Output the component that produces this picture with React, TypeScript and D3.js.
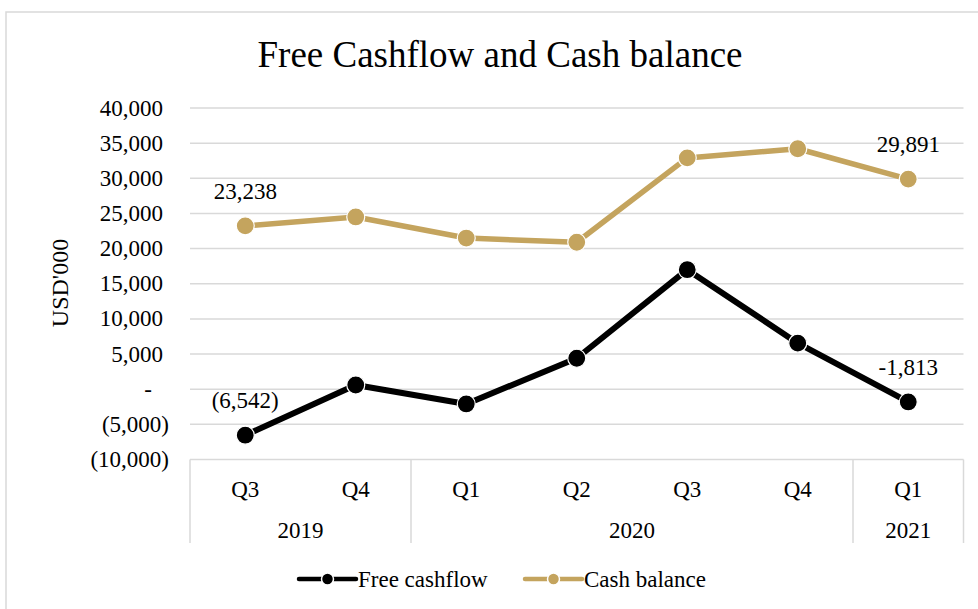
import * as d3 from "d3";
import { useEffect, useRef } from "react";

const quarters = ["Q3", "Q4", "Q1", "Q2", "Q3", "Q4", "Q1"];
const years = [
  { year: "2019", count: 2 },
  { year: "2020", count: 4 },
  { year: "2021", count: 1 },
];
const freeCashflow = [-6542, 600, -2100, 4400, 17000, 6550, -1813];
const cashBalance = [23238, 24500, 21500, 20900, 32900, 34200, 29891];
const freeCashflowLabels = ["(6,542)", "", "", "", "", "", "-1,813"];
const cashBalanceLabels = ["23,238", "", "", "", "", "", "29,891"];
const yTicks = [-10000, -5000, 0, 5000, 10000, 15000, 20000, 25000, 30000, 35000, 40000];

const FONT = "'Liberation Serif', 'Times New Roman', serif";
const GOLD = "#c4a45e";
const GRID = "#d9d9d9";

export default function App() {
  const svgRef = useRef<SVGSVGElement | null>(null);

  useEffect(() => {
    const svg = d3.select(svgRef.current);
    const width = 978;
    const height = 609;
    const left = 190;
    const right = 963.5;
    const top = 108;
    const bottom = 459.5;

    svg.selectAll("*").remove();
    svg.attr("width", width).attr("height", height);

    // chart frame
    svg
      .append("rect")
      .attr("x", 6)
      .attr("y", 12)
      .attr("width", 1000)
      .attr("height", 700)
      .attr("fill", "#fff")
      .attr("stroke", GRID)
      .attr("stroke-width", 1.5);

    svg
      .append("text")
      .attr("x", 500)
      .attr("y", 67)
      .attr("text-anchor", "middle")
      .attr("font-family", FONT)
      .attr("font-size", "37px")
      .attr("fill", "#000")
      .text("Free Cashflow and Cash balance");

    const x = d3
      .scaleBand<number>()
      .domain(d3.range(quarters.length))
      .range([left, right])
      .padding(0);
    const cx = (i: number) => (x(i) as number) + x.bandwidth() / 2;

    const y = d3.scaleLinear().domain([-10000, 40000]).range([bottom, top]);

    // gridlines
    svg
      .selectAll(".grid")
      .data(yTicks)
      .enter()
      .append("line")
      .attr("class", "grid")
      .attr("x1", left)
      .attr("x2", right)
      .attr("y1", (d) => y(d))
      .attr("y2", (d) => y(d))
      .attr("stroke", GRID)
      .attr("stroke-width", 1.5);

    // y tick labels, accounting style
    svg
      .selectAll(".ytick")
      .data(yTicks)
      .enter()
      .append("text")
      .attr("class", "ytick")
      .attr("x", (d) => (d === 0 ? 148 : d < 0 ? 169 : 163))
      .attr("y", (d) => y(d) + 7.5)
      .attr("text-anchor", (d) => (d === 0 ? "middle" : "end"))
      .attr("font-family", FONT)
      .attr("font-size", "23px")
      .attr("fill", "#000")
      .text((d) =>
        d === 0 ? "-" : d < 0 ? `(${d3.format(",")(-d)})` : d3.format(",")(d)
      );

    svg
      .append("text")
      .attr("transform", "translate(68,283) rotate(-90)")
      .attr("text-anchor", "middle")
      .attr("font-family", FONT)
      .attr("font-size", "24px")
      .attr("fill", "#000")
      .text("USD'000");

    // category axis box
    const axisBottom = 543;
    const dividers = [0];
    years.reduce((acc, g) => {
      dividers.push(acc + g.count);
      return acc + g.count;
    }, 0);
    svg
      .selectAll(".divider")
      .data(dividers)
      .enter()
      .append("line")
      .attr("class", "divider")
      .attr("x1", (d) => (d < quarters.length ? (x(d) as number) : right))
      .attr("x2", (d) => (d < quarters.length ? (x(d) as number) : right))
      .attr("y1", bottom)
      .attr("y2", axisBottom)
      .attr("stroke", GRID)
      .attr("stroke-width", 1.5);

    svg
      .selectAll(".qlabel")
      .data(quarters)
      .enter()
      .append("text")
      .attr("class", "qlabel")
      .attr("x", (_, i) => cx(i))
      .attr("y", 497)
      .attr("text-anchor", "middle")
      .attr("font-family", FONT)
      .attr("font-size", "23px")
      .attr("fill", "#000")
      .text((d) => d);

    svg
      .selectAll(".ylabel")
      .data(years)
      .enter()
      .append("text")
      .attr("class", "ylabel")
      .attr("x", (_, i) => {
        const start = dividers[i];
        const end = dividers[i + 1];
        const x0 = x(start) as number;
        const x1 = end < quarters.length ? (x(end) as number) : right;
        return (x0 + x1) / 2;
      })
      .attr("y", 538)
      .attr("text-anchor", "middle")
      .attr("font-family", FONT)
      .attr("font-size", "23px")
      .attr("fill", "#000")
      .text((d) => d.year);

    const line = d3
      .line<number>()
      .x((_, i) => cx(i))
      .y((d) => y(d));

    const series = [
      { values: cashBalance, labels: cashBalanceLabels, color: GOLD, width: 5.5 },
      { values: freeCashflow, labels: freeCashflowLabels, color: "#000", width: 6 },
    ];

    series.forEach((s) => {
      svg
        .append("path")
        .datum(s.values)
        .attr("fill", "none")
        .attr("stroke", s.color)
        .attr("stroke-width", s.width)
        .attr("stroke-linejoin", "round")
        .attr("d", line);

      svg
        .append("g")
        .selectAll("circle")
        .data(s.values)
        .enter()
        .append("circle")
        .attr("cx", (_, i) => cx(i))
        .attr("cy", (d) => y(d))
        .attr("r", 9)
        .attr("fill", s.color)
        .attr("stroke", "#fff")
        .attr("stroke-width", 1.2);

      svg
        .append("g")
        .selectAll("text")
        .data(s.values)
        .enter()
        .append("text")
        .attr("x", (_, i) => cx(i))
        .attr("y", (d) => y(d) - 27)
        .attr("text-anchor", "middle")
        .attr("font-family", FONT)
        .attr("font-size", "23px")
        .attr("fill", "#000")
        .text((_, i) => s.labels[i]);
    });

    // legend
    const legend = [
      { name: "Free cashflow", color: "#000", x: 299 },
      { name: "Cash balance", color: GOLD, x: 525 },
    ];
    const ly = 579;
    legend.forEach((l) => {
      svg
        .append("line")
        .attr("x1", l.x)
        .attr("x2", l.x + 57)
        .attr("y1", ly)
        .attr("y2", ly)
        .attr("stroke", l.color)
        .attr("stroke-width", 4.5)
        .attr("stroke-linecap", "round");
      svg
        .append("circle")
        .attr("cx", l.x + 28.5)
        .attr("cy", ly)
        .attr("r", 6)
        .attr("fill", l.color)
        .attr("stroke", "#fff")
        .attr("stroke-width", 1.5);
      svg
        .append("text")
        .attr("x", l.x + 59)
        .attr("y", ly + 8)
        .attr("font-family", FONT)
        .attr("font-size", "23px")
        .attr("fill", "#000")
        .text(l.name);
    });
  }, []);

  return (
    <svg
      ref={svgRef}
      style={{ position: "absolute", left: 0, top: 0, display: "block" }}
    ></svg>
  );
}
